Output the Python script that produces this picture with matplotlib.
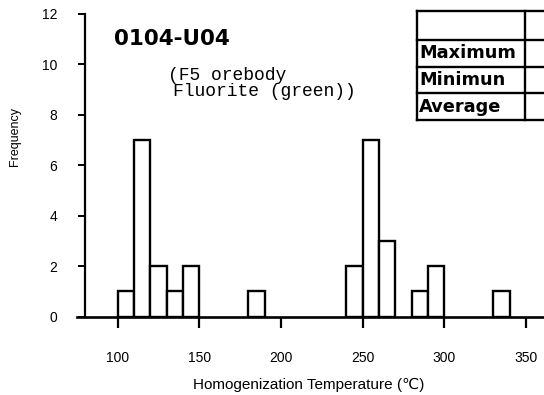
import matplotlib
matplotlib.use("Agg")
import matplotlib.pyplot as plt
from matplotlib.lines import Line2D

# ---- data ----
bin_left_edges = [100, 110, 120, 130, 140, 180, 240, 250, 260, 280, 290, 330]
frequencies = [1, 7, 2, 1, 2, 1, 2, 7, 3, 1, 2, 1]
bin_width = 10
x_ticks = [100, 150, 200, 250, 300, 350]
y_ticks = [0, 2, 4, 6, 8, 10, 12]
title = "0104-U04"
subtitle_lines = ["(F5 orebody", "Fluorite (green))"]
row_labels = ["Maximum", "Minimun", "Average"]
x_label = "Homogenization Temperature (\u2103)"
y_label = "Frequency"

W, H = 544, 395
fig = plt.figure(figsize=(W / 100, H / 100), dpi=100)

def fx(px):
    return px / W

def fy(py):
    return 1 - py / H

# axes placement (pixel based)
left_px, right_px = 76.9, 566.8
top_px, bottom_px = 13.8, 316.7
ax = fig.add_axes([fx(left_px), fy(bottom_px), fx(right_px - left_px), (bottom_px - top_px) / H])
ax.set_xlim(75, 375)
ax.set_ylim(0, 12)

ax.bar(bin_left_edges, frequencies, width=bin_width, align="edge",
       facecolor="white", edgecolor="black", linewidth=1.7, zorder=2)

for s in ["top", "right"]:
    ax.spines[s].set_visible(False)
ax.spines["left"].set_position(("data", 80))
ax.spines["left"].set_linewidth(1.6)
ax.spines["bottom"].set_linewidth(1.9)
ax.spines["bottom"].set_zorder(3)

tick_font = dict(family=["Liberation Sans", "DejaVu Sans"], size=10)
ax.set_xticks(x_ticks)
ax.set_xticklabels([str(v) for v in x_ticks], **tick_font)
ax.set_yticks(y_ticks)
ax.set_yticklabels([str(v) for v in y_ticks], **tick_font)
ax.tick_params(axis="x", direction="out", length=8, width=1.6, pad=17)
ax.tick_params(axis="y", direction="out", length=5, width=1.4, pad=15)

# axis labels
fig.text(fx(309), fy(385), x_label, ha="center", va="center",
         family=["Liberation Sans", "DejaVu Sans"], fontsize=11)
fig.text(fx(15), fy(137), y_label, ha="center", va="center", rotation=90,
         family=["Liberation Sans", "DejaVu Sans"], fontsize=9)

# title & subtitle
fig.text(fx(114), fy(39), title, ha="left", va="center",
         family=["DejaVu Sans"], fontweight="bold", fontsize=15.5)
fig.text(fx(168), fy(75), subtitle_lines[0], ha="left", va="center",
         family=["Liberation Mono", "DejaVu Sans Mono"], fontsize=13)
fig.text(fx(173), fy(91), subtitle_lines[1], ha="left", va="center",
         family=["Liberation Mono", "DejaVu Sans Mono"], fontsize=13)

# table
tbl_left, tbl_right, tbl_top = 416.7, 560, 11
row_lines = [40, 66.7, 93.3, 120]
lw = 1.7
def hline(y, x0, x1):
    fig.add_artist(Line2D([fx(x0), fx(x1)], [fy(y), fy(y)], color="black", lw=lw))
def vline(x, y0, y1):
    fig.add_artist(Line2D([fx(x), fx(x)], [fy(y0), fy(y1)], color="black", lw=lw))

hline(tbl_top, tbl_left, tbl_right)
for y in row_lines:
    hline(y, tbl_left, tbl_right)
vline(tbl_left, tbl_top, row_lines[-1])
vline(525, tbl_top, row_lines[-1])

for i, lab in enumerate(row_labels):
    yc = (row_lines[i] + row_lines[i + 1]) / 2
    fig.text(fx(419), fy(yc), lab, ha="left", va="center",
             family=["DejaVu Sans"], fontweight="bold", fontsize=12.8)

fig.savefig("out.png", dpi=100)
